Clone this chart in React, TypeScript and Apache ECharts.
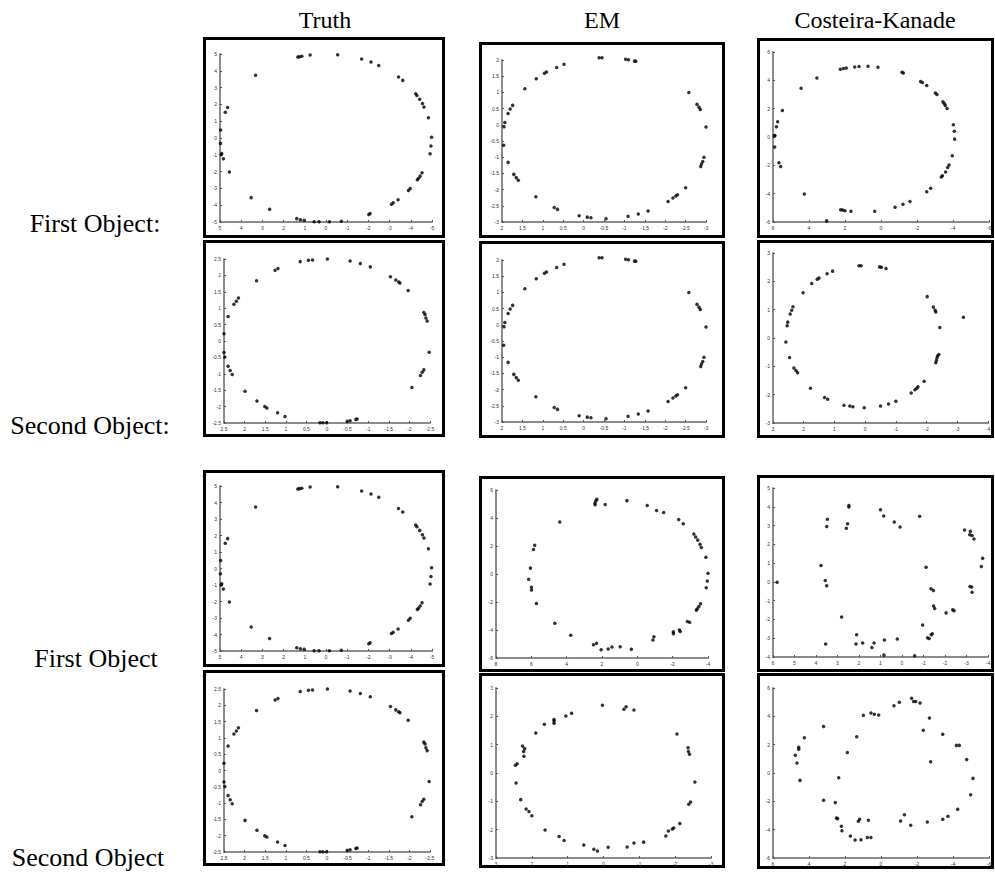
import React, { useEffect, useRef } from "react";
import * as echarts from "echarts";

// ---------- data ----------
const colTitles = ["Truth", "EM", "Costeira-Kanade"];
const rowLabels = ["First Object:", "Second Object:", "First Object", "Second Object"];

const truthFirst: number[][] = [
  [1.33, 4.82], [1.25, 4.84], [1.14, 4.86], [0.75, 4.94], [-0.55, 4.96], [-1.68, 4.7], [-2.12, 4.52], [-2.49, 4.32],
  [-3.42, 3.63], [-3.62, 3.43], [-4.23, 2.63], [-4.29, 2.53], [-4.42, 2.31], [-4.55, 2.05], [-4.62, 1.85], [-4.83, 1.2],
  [-4.98, 0.04], [-4.95, -0.48], [-4.91, -0.94], [-4.53, -2.07], [-4.44, -2.27], [-4.36, -2.41], [-4.31, -2.49],
  [-3.97, -3.01], [-3.89, -3.13], [-3.4, -3.67], [-3.17, -3.86], [-3.09, -3.94], [-2.08, -4.5], [-2.02, -4.56],
  [-0.72, -4.96], [-0.16, -4.98], [0.33, -4.98], [0.56, -4.98], [1.03, -4.9], [1.21, -4.86], [1.38, -4.8],
  [2.66, -4.24], [3.53, -3.55], [4.56, -2.03], [4.84, -1.24], [4.92, -0.92], [4.94, -1.0], [4.98, -0.32],
  [4.97, 0.48], [4.75, 1.53], [4.64, 1.81], [3.32, 3.73],
];

const truthSecond: number[][] = [
  [1.71, 1.84], [1.26, 2.16], [1.19, 2.21], [0.65, 2.42], [0.45, 2.46], [0.35, 2.47], [-0.01, 2.5], [-0.56, 2.44],
  [-0.81, 2.36], [-1.05, 2.26], [-1.54, 1.96], [-1.67, 1.86], [-1.74, 1.8], [-1.77, 1.77], [-1.97, 1.54],
  [-2.35, 0.87], [-2.38, 0.81], [-2.4, 0.7], [-2.43, 0.61], [-2.48, -0.34], [-2.35, -0.88], [-2.31, -0.95],
  [-2.27, -1.05], [-2.06, -1.42], [-0.73, -2.38], [-0.7, -2.39], [-0.56, -2.43], [-0.49, -2.45], [0.01, -2.49],
  [0.1, -2.49], [0.17, -2.49], [1.02, -2.3], [1.2, -2.19], [1.46, -2.04], [1.51, -2.0], [1.7, -1.83], [1.99, -1.53],
  [2.3, -1.02], [2.35, -0.9], [2.4, -0.77], [2.48, -0.49], [2.5, -0.35], [2.5, 0.22], [2.4, 0.75], [2.26, 1.12],
  [2.2, 1.21], [2.15, 1.31],
];

const emTop: number[][] = [
  [-0.38, 2.07], [-0.45, 2.07], [-1.03, 2.02], [-1.1, 2.01], [-1.25, 1.97], [-1.28, 1.96], [0.48, 1.87], [0.66, 1.77],
  [0.91, 1.63], [0.96, 1.59], [1.16, 1.42], [1.44, 1.11], [1.74, 0.6], [1.8, 0.49], [1.85, 0.35], [1.93, 0.07],
  [1.95, -0.06], [1.96, -0.63], [1.85, -1.16], [1.71, -1.53], [1.65, -1.63], [1.6, -1.71], [1.17, -2.22],
  [0.72, -2.55], [0.64, -2.61], [0.11, -2.81], [-0.09, -2.85], [-0.18, -2.87], [-0.55, -2.9], [-1.09, -2.82],
  [-1.34, -2.75], [-1.58, -2.66], [-2.07, -2.37], [-2.19, -2.26], [-2.26, -2.2], [-2.3, -2.16], [-2.5, -1.94],
  [-2.58, 1.0], [-2.78, 0.63], [-2.83, 0.54], [-2.86, 0.47], [-3.0, -0.07], [-2.95, -1.0], [-2.92, -1.13],
  [-2.89, -1.21], [-2.87, -1.29],
];

const ckFirst: number[][] = [
  [2.26, 4.78], [2.09, 4.83], [1.93, 4.87], [1.46, 4.94], [1.22, 4.97], [0.72, 4.99], [0.17, 4.92], [-1.17, 4.57],
  [-1.24, 4.52], [-2.2, 3.91], [-2.3, 3.84], [-2.54, 3.63], [-3.02, 3.11], [-3.11, 3.0], [-3.44, 2.48], [-3.52, 2.36],
  [-3.57, 2.22], [-3.67, 2.01], [-4.02, 0.86], [-4.07, 0.41], [-4.09, -0.15], [-3.96, -1.32], [-3.78, -1.98],
  [-3.7, -2.15], [-3.59, -2.47], [-3.41, -2.73], [-3.35, -2.83], [-2.76, -3.62], [-2.54, -3.86], [-1.61, -4.56],
  [-1.22, -4.75], [-0.78, -4.96], [0.35, -5.24], [1.67, -5.24], [2.0, -5.2], [2.13, -5.15], [2.24, -5.13],
  [3.02, -5.92], [4.26, -4.02], [5.57, -2.08], [5.67, -1.82], [5.91, -0.71], [5.93, 0.08], [5.89, 0.11],
  [5.81, 0.72], [5.74, 1.07], [5.48, 1.87], [4.44, 3.44], [3.56, 4.17],
];

const ckSecond: number[][] = [
  [0.2, 2.55], [0.13, 2.55], [-0.47, 2.51], [-0.53, 2.5], [-0.68, 2.45], [1.06, 2.36], [1.24, 2.27], [1.5, 2.12],
  [1.56, 2.07], [1.74, 1.92], [2.02, 1.6], [-2.02, 1.46], [-2.22, 1.09], [-2.28, 0.98], [-2.3, 0.92], [-3.2, 0.73],
  [-2.43, 0.37], [2.35, 1.1], [2.39, 0.98], [2.44, 0.85], [2.52, 0.56], [2.54, 0.43], [2.58, -0.14], [2.46, -0.69],
  [2.32, -1.06], [2.25, -1.15], [2.2, -1.23], [1.78, -1.77], [1.32, -2.1], [1.22, -2.16], [0.69, -2.37],
  [0.5, -2.4], [0.4, -2.43], [0.03, -2.46], [-0.5, -2.4], [-0.76, -2.33], [-1.0, -2.23], [-1.5, -1.94],
  [-1.62, -1.83], [-1.68, -1.77], [-1.72, -1.72], [-1.92, -1.53], [-2.3, -0.87], [-2.32, -0.79], [-2.34, -0.7],
  [-2.36, -0.63], [-2.4, -0.58],
];

const emFirstB: number[][] = [
  [2.29, 5.33], [2.35, 5.21], [2.4, 5.05], [2.39, 4.95], [1.82, 4.97], [0.59, 5.24], [-0.56, 4.9], [-1.09, 4.54],
  [-1.49, 4.4], [-2.34, 3.9], [-2.6, 3.59], [4.39, 3.71], [5.81, 2.06], [5.88, 1.75], [6.05, 0.42], [6.15, -0.37],
  [5.99, -0.95], [5.99, -1.14], [5.71, -2.11], [4.67, -3.52], [3.77, -4.38], [2.48, -5.05], [2.31, -4.95],
  [2.05, -5.41], [1.65, -5.36], [1.44, -5.22], [0.97, -5.19], [0.34, -5.38], [-0.88, -4.72], [-0.94, -4.48],
  [-2.04, -4.26], [-2.04, -4.12], [-2.38, -4.0], [-2.43, -4.1], [-2.83, -3.4], [-2.96, -3.45], [-3.2, 2.85],
  [-3.3, 2.65], [-3.42, 2.42], [-3.55, 2.12], [-3.62, 1.9], [-3.88, 1.2], [-4.0, 0.05], [-3.96, -0.5],
  [-3.9, -0.98], [-3.58, -2.12], [-3.48, -2.32], [-3.4, -2.48], [-3.34, -2.58],
];

const ckFirstB: number[][] = [
  [5.81, -0.02], [3.77, 0.87], [3.57, 0.07], [3.5, -0.21], [3.47, 3.33], [3.5, 2.95], [3.55, -3.31], [2.81, -1.87],
  [2.59, 2.86], [2.53, 3.1], [2.47, 3.99], [2.47, 4.07], [2.11, -2.81], [2.14, -3.31], [1.83, -3.26], [1.4, -3.49],
  [1.3, -3.26], [0.82, -3.1], [0.84, -3.9], [1.0, 3.84], [0.85, 3.51], [0.36, 3.19], [0.09, 2.92], [0.22, -3.04],
  [-0.59, -3.93], [-0.82, 3.49], [-1.12, 0.78], [-0.96, -2.3], [-1.19, -2.97], [-1.26, -3.01], [-1.36, -2.81],
  [-1.41, -2.76], [-1.35, -0.37], [-1.46, -0.46], [-1.47, -1.28], [-1.52, -1.42], [-2.05, -1.65], [-2.36, -1.49],
  [-2.42, -1.53], [-2.91, 2.76], [-3.18, 2.69], [-3.15, 2.51], [-3.26, 2.47], [-3.35, 2.28], [-3.75, 1.26],
  [-3.69, 0.82], [-3.16, -0.25], [-3.24, -0.27], [-3.26, -0.55],
];

const emSecondB: number[][] = [
  [0.03, 2.39], [-0.57, 2.25], [-0.63, 2.34], [-0.85, 2.22], [0.89, 2.11], [1.05, 2.01], [1.38, 1.89], [1.38, 1.84],
  [1.38, 1.76], [1.65, 1.72], [1.89, 1.41], [2.26, 0.95], [2.23, 0.76], [2.2, 0.86], [2.22, 0.59], [2.41, 0.33],
  [2.46, 0.27], [2.44, -0.35], [2.31, -0.94], [2.16, -1.27], [2.08, -1.36], [2.0, -1.51], [1.63, -2.01],
  [1.24, -2.24], [1.1, -2.38], [0.55, -2.54], [0.27, -2.69], [0.17, -2.75], [-0.13, -2.62], [-0.66, -2.61],
  [-0.85, -2.47], [-1.12, -2.44], [-1.74, -2.22], [-1.81, -2.05], [-1.92, -1.98], [-1.96, -1.94], [-2.13, -1.78],
  [-2.05, 1.38], [-2.36, 0.89], [-2.37, 0.76], [-2.43, -1.02], [-2.4, 0.66], [-2.55, -0.32], [-2.38, -1.1],
];

const ckSecondB: number[][] = [
  [-1.7, 5.27], [-1.81, 5.04], [-1.93, 5.04], [-2.17, 4.94], [-1.02, 4.99], [-0.72, 4.75], [0.56, 4.24], [0.37, 4.14],
  [0.13, 4.09], [0.98, 4.07], [-2.69, 3.88], [-2.35, 3.01], [-3.43, 2.73], [-4.19, 1.95], [-4.35, 1.95],
  [-4.76, 0.96], [-2.76, 0.8], [-5.11, -0.38], [-4.98, -1.53], [-4.26, -2.56], [-3.72, -3.06], [-3.43, -3.27],
  [-2.57, -3.46], [-1.65, -3.69], [-1.3, -2.94], [-1.09, -3.39], [0.7, -3.34], [1.19, -3.27], [1.26, -3.41],
  [0.56, -4.56], [0.76, -4.56], [1.11, -4.71], [1.44, -4.73], [1.7, -4.45], [2.17, -4.07], [2.2, -3.76],
  [2.41, -3.22], [2.48, -3.18], [2.54, -2.09], [3.19, -1.93], [2.35, -0.33], [1.87, 1.44], [1.35, 2.56],
  [3.19, 3.29], [4.26, 2.49], [4.57, 1.81], [4.57, 1.67], [4.76, 1.25], [4.67, 0.71], [4.5, -0.52],
];

// axis ranges [min, max, interval]
const truthFirstAxis = { x: [-5, 5, 1], y: [-5, 5, 1] };
const truthSecondAxis = { x: [-2.5, 2.5, 0.5], y: [-2.5, 2.5, 0.5] };
const emTopAxis = { x: [-3, 2, 0.5], y: [-3, 2, 0.5] };
const ckFirstAxis = { x: [-6, 6, 2], y: [-6, 6, 2] };
const ckSecondAxis = { x: [-4, 3, 1], y: [-3, 3, 1] };
const emFirstBAxis = { x: [-4, 8, 2], y: [-6, 6, 2] };
const ckFirstBAxis = { x: [-4, 6, 1], y: [-4, 5, 1] };
const emSecondBAxis = { x: [-3, 3, 1], y: [-3, 3, 1] };
const ckSecondBAxis = { x: [-6, 6, 2], y: [-6, 6, 2] };

// ---------- layout ----------
type Panel = { data: number[][]; ax: { x: number[]; y: number[] }; box: number[]; plot: number[] };

const panels: Panel[] = [
  { data: truthFirst, ax: truthFirstAxis, box: [203, 37, 445, 238], plot: [220, 54, 432, 222] },
  { data: emTop, ax: emTopAxis, box: [479, 42, 725, 238], plot: [502, 60, 706, 222] },
  { data: ckFirst, ax: ckFirstAxis, box: [757, 38, 994, 238], plot: [773, 52, 989, 222] },
  { data: truthSecond, ax: truthSecondAxis, box: [203, 240, 445, 437], plot: [224, 259, 430, 423] },
  { data: emTop, ax: emTopAxis, box: [479, 241, 725, 438], plot: [502, 260, 706, 422] },
  { data: ckSecond, ax: ckSecondAxis, box: [757, 240, 994, 438], plot: [773, 253, 988, 423] },
  { data: truthFirst, ax: truthFirstAxis, box: [203, 470, 445, 667], plot: [220, 486, 432, 651] },
  { data: emFirstB, ax: emFirstBAxis, box: [479, 476, 725, 672], plot: [496, 490, 708, 658] },
  { data: ckFirstB, ax: ckFirstBAxis, box: [757, 475, 994, 672], plot: [773, 488, 988, 657] },
  { data: truthSecond, ax: truthSecondAxis, box: [203, 670, 445, 866], plot: [224, 689, 430, 852] },
  { data: emSecondB, ax: emSecondBAxis, box: [479, 673, 725, 868], plot: [496, 688, 711, 858] },
  { data: ckSecondB, ax: ckSecondBAxis, box: [757, 673, 994, 869], plot: [773, 688, 989, 858] },
];

const titlePos = [[325, 20], [602, 20], [875, 20]];
const rowLabelPos = [[95, 223], [90, 425], [96, 658], [88, 857]];

export default function App() {
  const ref = useRef<HTMLDivElement>(null);
  useEffect(() => {
    if (!ref.current) return;
    const chart = echarts.init(ref.current, undefined, { renderer: "svg" });
    const grid: any[] = [];
    const xAxis: any[] = [];
    const yAxis: any[] = [];
    const series: any[] = [];
    const graphic: any[] = [];
    const axisCommon = (r: number[], i: number) => ({
      type: "value",
      gridIndex: i,
      min: r[0],
      max: r[1],
      interval: r[2],
      axisLine: { show: true, onZero: false, lineStyle: { color: "#8c8c8c", width: 2 } },
      axisTick: { show: true, inside: true, length: 2, lineStyle: { color: "#555", width: 1 } },
      axisLabel: { fontSize: 5, color: "#333", margin: 3, fontFamily: "Liberation Sans, sans-serif" },
      splitLine: { show: false },
    });
    panels.forEach((p, i) => {
      const [l, t, r, b] = p.plot;
      grid.push({ left: l, top: t, width: r - l, height: b - t, containLabel: false });
      xAxis.push({ ...axisCommon(p.ax.x, i), inverse: true });
      yAxis.push({ ...axisCommon(p.ax.y, i) });
      series.push({
        type: "scatter",
        xAxisIndex: i,
        yAxisIndex: i,
        data: p.data,
        symbol: "circle",
        symbolSize: 3.5,
        itemStyle: { color: "#000" },
        clip: false,
        silent: true,
      });
      const [x0, y0, x1, y1] = p.box;
      graphic.push({
        type: "rect",
        shape: { x: x0 + 1.5, y: y0 + 1.5, width: x1 - x0 - 3, height: y1 - y0 - 3 },
        style: { fill: "none", stroke: "#000", lineWidth: 3 },
        silent: true,
      });
    });
    colTitles.forEach((tx, i) => {
      graphic.push({
        type: "text",
        x: titlePos[i][0],
        y: titlePos[i][1],
        style: { text: tx, fontSize: 24, fontFamily: "Liberation Serif, Times New Roman, serif", fill: "#000", align: "center", verticalAlign: "middle" },
      });
    });
    rowLabels.forEach((tx, i) => {
      graphic.push({
        type: "text",
        x: rowLabelPos[i][0],
        y: rowLabelPos[i][1],
        style: { text: tx, fontSize: 26, fontFamily: "Liberation Serif, Times New Roman, serif", fill: "#000", align: "center", verticalAlign: "middle" },
      });
    });
    chart.setOption({
      animation: false,
      backgroundColor: "#fff",
      grid,
      xAxis,
      yAxis,
      series,
      graphic,
    });
    return () => chart.dispose();
  }, []);
  return <div ref={ref} style={{ position: "absolute", left: 0, top: 0, width: 995, height: 874 }} />;
}
